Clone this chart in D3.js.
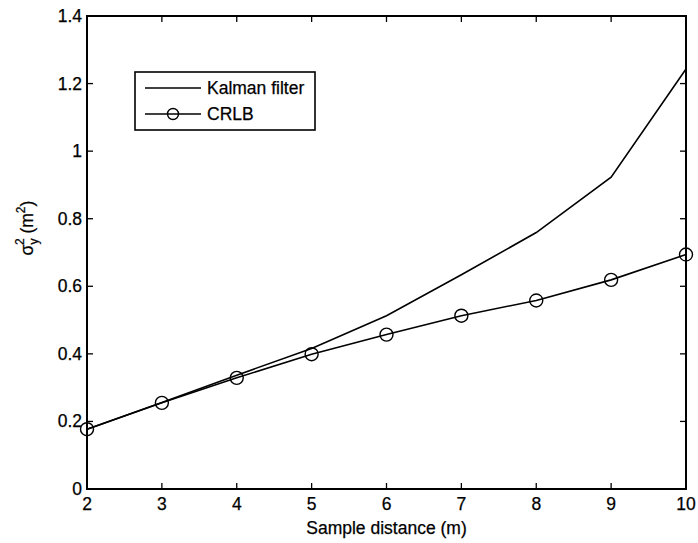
<!DOCTYPE html>
<html>
<head>
<meta charset="utf-8">
<script src="https://cdn.jsdelivr.net/npm/d3@7"></script>
<style>
  html, body { margin: 0; padding: 0; background: #fff; }
  svg { display: block; }
  text { font-family: "Liberation Sans", Arial, Helvetica, sans-serif; fill: #000; stroke: #000; stroke-width: 0.25; }
</style>
</head>
<body>
<svg id="chart" width="698" height="543"></svg>
<script>
// Sample distances (m)
const distances = [2, 3, 4, 5, 6, 7, 8, 9, 10];
// Position error variance from the Kalman filter
const kalmanValues = [0.177, 0.256, 0.337, 0.416, 0.513, 0.634, 0.759, 0.923, 1.243];
// Cramér-Rao lower bound
const crlbValues = [0.177, 0.255, 0.329, 0.399, 0.457, 0.513, 0.558, 0.619, 0.694];
// Axis ticks
const xTicks = [2, 3, 4, 5, 6, 7, 8, 9, 10];
const yTicks = [0, 0.2, 0.4, 0.6, 0.8, 1, 1.2, 1.4];

const svg = d3.select("#chart");
const plotLeft = 87, plotRight = 686, plotTop = 16, plotBottom = 489;
const fs = 17.5;

const x = d3.scaleLinear().domain([2, 10]).range([plotLeft, plotRight]);
const y = d3.scaleLinear().domain([0, 1.4]).range([plotBottom, plotTop]);

const tickLen = 6;

// Tick marks (inward, on all four sides)
const g = svg.append("g").attr("stroke", "#000").attr("stroke-width", 1.3);
xTicks.forEach(t => {
  g.append("line").attr("x1", x(t)).attr("x2", x(t)).attr("y1", plotBottom).attr("y2", plotBottom - tickLen);
  g.append("line").attr("x1", x(t)).attr("x2", x(t)).attr("y1", plotTop).attr("y2", plotTop + tickLen);
});
yTicks.forEach(t => {
  g.append("line").attr("x1", plotLeft).attr("x2", plotLeft + tickLen).attr("y1", y(t)).attr("y2", y(t));
  g.append("line").attr("x1", plotRight).attr("x2", plotRight - tickLen).attr("y1", y(t)).attr("y2", y(t));
});

// Tick labels
const fmt = d => String(d);
svg.append("g").selectAll("text").data(xTicks).join("text")
  .attr("x", d => x(d)).attr("y", plotBottom + 21)
  .attr("text-anchor", "middle").attr("font-size", fs)
  .text(fmt);
svg.append("g").selectAll("text").data(yTicks).join("text")
  .attr("x", plotLeft - 5).attr("y", d => y(d) + 6)
  .attr("text-anchor", "end").attr("font-size", fs)
  .text(fmt);

// Series
const line = d3.line().x((d, i) => x(distances[i])).y(d => y(d));
svg.append("path").datum(kalmanValues)
  .attr("d", line).attr("fill", "none").attr("stroke", "#000").attr("stroke-width", 1.6);
svg.append("path").datum(crlbValues)
  .attr("d", line).attr("fill", "none").attr("stroke", "#000").attr("stroke-width", 1.6);
svg.append("g").selectAll("circle").data(crlbValues).join("circle")
  .attr("cx", (d, i) => x(distances[i])).attr("cy", d => y(d)).attr("r", 6.5)
  .attr("fill", "none").attr("stroke", "#000").attr("stroke-width", 1.4);

// Plot box
svg.append("rect")
  .attr("x", plotLeft).attr("y", plotTop).attr("width", plotRight - plotLeft).attr("height", plotBottom - plotTop)
  .attr("fill", "none").attr("stroke", "#000").attr("stroke-width", 2);

// Legend
const lg = svg.append("g");
lg.append("rect").attr("x", 135).attr("y", 72).attr("width", 180).attr("height", 58)
  .attr("fill", "#fff").attr("stroke", "#000").attr("stroke-width", 1.6);
lg.append("line").attr("x1", 145).attr("x2", 201).attr("y1", 88).attr("y2", 88)
  .attr("stroke", "#000").attr("stroke-width", 1.6);
lg.append("text").attr("x", 207).attr("y", 94).attr("font-size", fs).text("Kalman filter");
lg.append("line").attr("x1", 145).attr("x2", 201).attr("y1", 114).attr("y2", 114)
  .attr("stroke", "#000").attr("stroke-width", 1.6);
lg.append("circle").attr("cx", 173).attr("cy", 114).attr("r", 5.5)
  .attr("fill", "none").attr("stroke", "#000").attr("stroke-width", 1.4);
lg.append("text").attr("x", 207).attr("y", 120).attr("font-size", fs).text("CRLB");

// Axis titles
svg.append("text").attr("x", (plotLeft + plotRight) / 2).attr("y", 534)
  .attr("text-anchor", "middle").attr("font-size", fs).text("Sample distance (m)");

const yl = svg.append("text")
  .attr("transform", "translate(33," + 228 + ") rotate(-90)")
  .attr("text-anchor", "middle").attr("font-size", fs);
yl.append("tspan").text("σ");
yl.append("tspan").attr("font-size", 12).attr("dy", 5).text("y");
yl.append("tspan").attr("font-size", 12).attr("dx", -6.5).attr("dy", -14).text("2");
yl.append("tspan").attr("dy", 9).text(" (m");
yl.append("tspan").attr("font-size", 12).attr("dy", -8).text("2");
yl.append("tspan").attr("dy", 8).text(")");
</script>
</body>
</html>
